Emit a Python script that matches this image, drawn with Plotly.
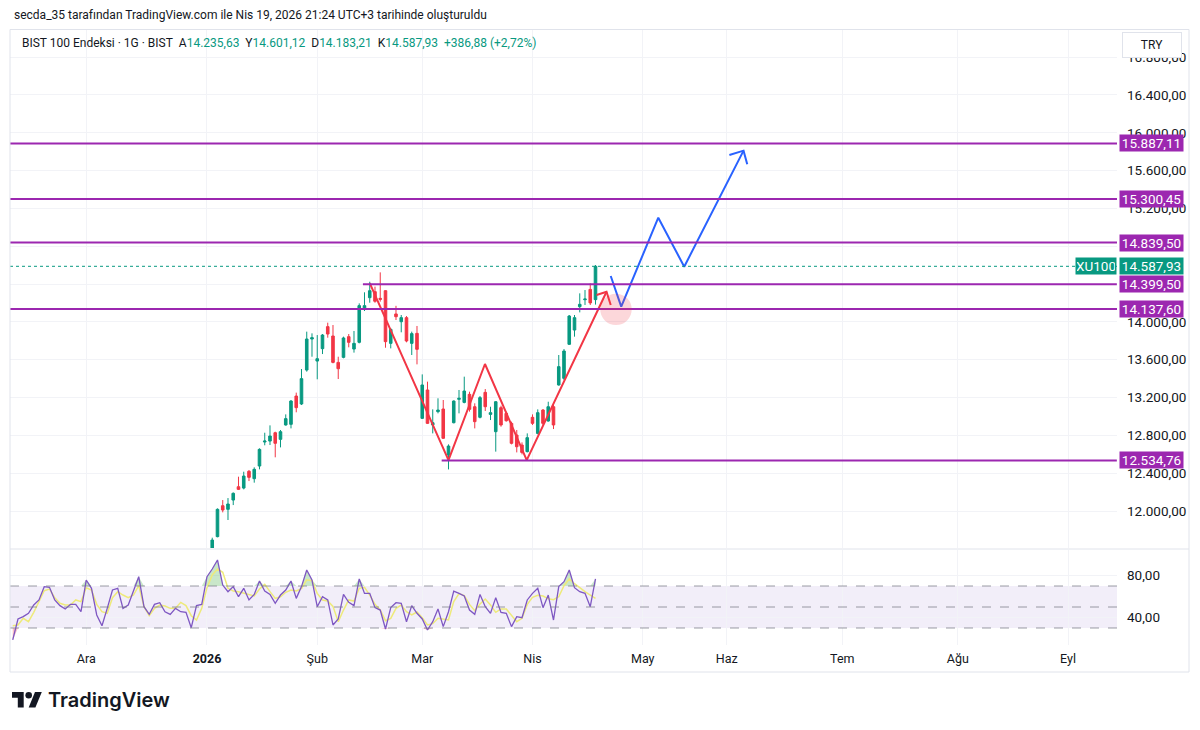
import plotly.graph_objects as go

# ---------------- data ----------------
# bar index: 0 = 2 Jan 2026 (trading days)
candle_idx = list(range(1, 75))
opens = [11595, 11729, 12056, 12018, 12116, 12257, 12243, 12420, 12342, 12476,
         12730, 12740, 12828, 12758, 12910, 12917, 13216, 13132, 13491, 13819,
         13586, 13717, 13950, 13851, 13572, 13625, 13844, 13713, 13784, 14133,
         14256, 14320, 14249, 14330, 13773, 14084, 14002, 14045, 13773, 13879,
         12980, 13280, 12910, 13051, 13079, 12592, 12934, 13181, 13149, 13234,
         13103, 12991, 13255, 13022, 12839, 13093, 13033, 12927, 12804, 12698,
         12628, 12991, 12821, 13068, 12952, 13103, 13333, 13403, 13763, 13914,
         14161, 14235, 14344, 14235.63]
highs = [11718, 12028, 12116, 12137, 12197, 12363, 12416, 12434, 12462, 12663,
         12828, 12906, 12839, 12857, 13022, 13174, 13252, 13502, 13897, 13879,
         13861, 13872, 13992, 13967, 13632, 13844, 13872, 13904, 14196, 14313,
         14425, 14373, 14524, 14335, 13932, 14170, 14073, 14062, 13897, 13957,
         13445, 13368, 13075, 13192, 13174, 12705, 13170, 13280, 13421, 13262,
         13139, 13216, 13290, 13103, 13163, 13114, 13051, 12945, 12857, 12726,
         12821, 13022, 13075, 13079, 13156, 13121, 13650, 13713, 14073, 14073,
         14302, 14337, 14408, 14601.12]
lows = [11588, 11722, 11986, 11905, 12063, 12222, 12229, 12317, 12300, 12441,
        12695, 12698, 12568, 12673, 12903, 12874, 13044, 13121, 13474, 13632,
        13393, 13660, 13833, 13562, 13396, 13615, 13731, 13675, 13773, 14115,
        14203, 14203, 14214, 13727, 13720, 14020, 13890, 13784, 13650, 13551,
        12973, 12920, 12821, 13033, 12762, 12440, 12927, 13033, 13139, 13051,
        12874, 12980, 13058, 12962, 12628, 12892, 12945, 12705, 12620, 12599,
        12620, 12910, 12811, 12910, 12945, 12867, 13326, 13386, 13756, 13844,
        14101, 14179, 14179, 14183.21]
closes = [11693, 12018, 12011, 12074, 12187, 12229, 12370, 12356, 12441, 12652,
          12740, 12793, 12716, 12839, 12977, 13163, 13093, 13400, 13819, 13833,
          13611, 13861, 13872, 13572, 13505, 13830, 13784, 13773, 14172, 14172,
          14330, 14218, 14239, 13791, 13921, 14055, 14045, 13798, 13876, 13710,
          13333, 12927, 12934, 13068, 12769, 12687, 13163, 13192, 13269, 13075,
          12945, 13199, 13103, 13040, 13156, 12910, 12955, 12716, 12680, 12620,
          12776, 12927, 13040, 12927, 13103, 12910, 13527, 13692, 14062, 14045,
          14186, 14242, 14201.05, 14587.93]

rsi_idx = list(range(-37, 75))
rsi = [18.6, 38.6, 40.8, 44.0, 51.9, 56.7, 69.4, 68.7, 56.7, 51.3,
       48.1, 52.5, 52.5, 45.5, 75.7, 67.8, 42.4, 32.2, 48.7, 66.2,
       67.8, 48.7, 51.9, 64.6, 78.9, 50.3, 43.0, 52.5, 54.1, 45.5,
       43.0, 48.7, 45.5, 44.9, 30.3, 51.3, 52.5,
       78.9, 86.2, 94.8, 70.9, 64.6, 69.4, 59.8, 67.8, 56.7, 62.0,
       74.8, 65.2, 62.0, 53.5, 61.4, 66.2, 74.8, 58.2, 69.4, 85.2,
       75.7, 50.3, 59.8, 56.7, 32.9, 38.6, 62.0, 54.4, 51.3, 76.7,
       63.0, 63.0, 49.4, 47.1, 29.0, 49.4, 54.1, 53.5, 36.0, 51.3,
       44.0, 38.6, 28.1, 36.0, 48.1, 31.3, 45.5, 65.2, 63.0, 60.5,
       47.1, 43.0, 62.0, 50.3, 44.0, 58.9, 44.9, 44.0, 31.3, 40.8,
       39.8, 56.7, 63.0, 67.8, 49.4, 61.4, 37.6, 69.4, 74.1, 85.2,
       68.4, 64.6, 63.0, 50.3, 76.7]
rsi_ma = [32.2, 32.8, 39.2, 36.0, 44.9, 56.0, 65.5, 67.1, 58.9, 53.5,
          51.9, 51.9, 56.7, 55.1, 68.4, 66.2, 52.5, 45.5, 44.0, 58.9,
          64.6, 61.4, 58.9, 61.4, 70.3, 50.3, 41.7, 48.7, 51.9, 50.9,
          48.7, 48.7, 54.4, 51.3, 41.7, 37.6, 48.7,
          68.4, 80.5, 86.2, 83.0, 67.8, 65.2, 64.6, 63.0, 61.4, 60.5,
          67.1, 71.6, 64.6, 58.2, 59.8, 64.0, 66.2, 65.2, 67.4, 76.0,
          75.1, 63.0, 56.7, 55.7, 50.6, 36.0, 47.1, 56.7, 55.7, 67.8,
          68.7, 61.4, 52.5, 47.1, 37.0, 39.2, 48.7, 51.9, 45.5, 42.4,
          45.2, 39.8, 32.9, 34.1, 39.2, 38.6, 37.6, 55.1, 62.7, 60.8,
          52.5, 46.5, 52.8, 57.6, 51.9, 44.9, 48.1, 48.1, 41.7, 36.0,
          39.2, 52.5, 59.2, 61.1, 60.5, 57.9, 57.0, 59.8, 70.3, 76.7,
          72.2, 68.1, 64.6, 61.4, 58.2]

month_idx = [-23, 0, 21, 41, 62, 83, 99, 121, 143, 164]
month_labels = ["Ara", "<b>2026</b>", "Şub", "Mar", "Nis", "May", "Haz", "Tem", "Ağu", "Eyl"]

price_ticks = [12000, 12400, 12800, 13200, 13600, 14000, 14400, 14800,
               15200, 15600, 16000, 16400, 16800]
# tick labels fully covered by the level tags in the reference
hidden_ticks = [14400, 14800]
rsi_ticks = [40, 80]
rsi_levels = [70, 50, 30]

levels_full = [15887.11, 15300.45, 14839.50, 14137.60]
levels_partial = [14399.50, 12534.76]
levels_partial_start = [29.7, 44.7]

pattern_x = [31.0, 46.0, 52.95, 60.9, 76.1]
pattern_y = [14411, 12539, 13555, 12539, 14319]
pattern_head_x = [74.2, 76.1, 76.9]
pattern_head_y = [14284, 14319, 14179]

proj_x = [76.9, 78.9, 85.96, 90.9, 102.2]
proj_y = [14485, 14161, 15102, 14584, 15811]
proj_head_x = [99.5, 102.2, 102.9]
proj_head_y = [15765, 15811, 15667]

circle_center = (77.9, 14133)
circle_radius = (3.0, 166)

prev_close = 14201.05

# ---------------- style ----------------
GREEN = "#089981"
RED = "#F23645"
PURPLE = "#9C27B0"
BLUE = "#2962FF"
TXT = "#131722"
GRID = "#f2f3f7"
FONT = "Roboto"
AXFS = 13.5

L, R, T, B = 10, 83, 30, 85
PW, PH = 1200 - L - R, 730 - T - B


def xp(px):
    return (px - L) / PW


def yp(py):
    return (730 - B - py) / PH


def tr(v):
    s = f"{v:,.2f}"
    return s.replace(",", "X").replace(".", ",").replace("X", ".")


fig = go.Figure()

fig.add_trace(go.Candlestick(
    x=candle_idx, open=opens, high=highs, low=lows, close=closes,
    increasing=dict(line=dict(color=GREEN, width=1), fillcolor=GREEN),
    decreasing=dict(line=dict(color=RED, width=1), fillcolor=RED),
    whiskerwidth=0, xaxis="x", yaxis="y", hoverinfo="skip", showlegend=False))

# pattern lines
for xs, ys, col in [(pattern_x, pattern_y, RED), (pattern_head_x, pattern_head_y, RED),
                    (proj_x, proj_y, BLUE), (proj_head_x, proj_head_y, BLUE)]:
    fig.add_trace(go.Scatter(x=xs, y=ys, mode="lines", line=dict(color=col, width=2),
                             xaxis="x", yaxis="y", hoverinfo="skip", showlegend=False))

# RSI fills
n = len(rsi_idx)
fig.add_trace(go.Scatter(x=rsi_idx, y=[70] * n, mode="lines", line=dict(width=0),
                         xaxis="x2", yaxis="y2", hoverinfo="skip", showlegend=False))
fig.add_trace(go.Scatter(x=rsi_idx, y=[max(v, 70) for v in rsi], mode="lines",
                         line=dict(width=0), fill="tonexty",
                         fillcolor="rgba(76,175,80,0.30)",
                         xaxis="x2", yaxis="y2", hoverinfo="skip", showlegend=False))
fig.add_trace(go.Scatter(x=rsi_idx, y=[30] * n, mode="lines", line=dict(width=0),
                         xaxis="x2", yaxis="y2", hoverinfo="skip", showlegend=False))
fig.add_trace(go.Scatter(x=rsi_idx, y=[min(v, 30) for v in rsi], mode="lines",
                         line=dict(width=0), fill="tonexty",
                         fillcolor="rgba(242,54,69,0.30)",
                         xaxis="x2", yaxis="y2", hoverinfo="skip", showlegend=False))
fig.add_trace(go.Scatter(x=rsi_idx, y=rsi_ma, mode="lines",
                         line=dict(color="#EEEA7A", width=1.5),
                         xaxis="x2", yaxis="y2", hoverinfo="skip", showlegend=False))
fig.add_trace(go.Scatter(x=rsi_idx, y=rsi, mode="lines",
                         line=dict(color="#7E57C2", width=1.3),
                         xaxis="x2", yaxis="y2", hoverinfo="skip", showlegend=False))

shapes = []
shapes.append(dict(type="rect", xref="x2 domain", yref="y2", x0=0, x1=1,
                   y0=min(rsi_levels), y1=max(rsi_levels),
                   fillcolor="rgba(126,87,194,0.10)", line=dict(width=0), layer="below"))
for lv in rsi_levels:
    shapes.append(dict(type="line", xref="x2 domain", yref="y2", x0=0, x1=1, y0=lv, y1=lv,
                       line=dict(color="rgba(120,123,134,0.75)", width=1, dash="dash")))
shapes.append(dict(type="line", xref="x domain", yref="y", x0=0, x1=1,
                   y0=closes[-1], y1=closes[-1],
                   line=dict(color=GREEN, width=1, dash="dot")))
for lv in levels_full:
    shapes.append(dict(type="line", xref="x domain", yref="y", x0=0, x1=1, y0=lv, y1=lv,
                       line=dict(color=PURPLE, width=2)))
for lv, xs in zip(levels_partial, levels_partial_start):
    shapes.append(dict(type="line", xref="x", yref="y", x0=xs, x1=173.3, y0=lv, y1=lv,
                       line=dict(color=PURPLE, width=2)))
cx, cy = circle_center
rx, ry = circle_radius
shapes.append(dict(type="circle", xref="x", yref="y", x0=cx - rx, x1=cx + rx,
                   y0=cy - ry, y1=cy + ry, fillcolor="rgba(242,54,69,0.20)",
                   line=dict(width=0)))
shapes.append(dict(type="line", xref="paper", yref="paper", x0=0, x1=xp(1189),
                   y0=yp(549), y1=yp(549), line=dict(color="#e0e3eb", width=1)))
shapes.append(dict(type="rect", xref="paper", yref="paper", x0=xp(10), x1=xp(1189),
                   y0=yp(672), y1=yp(29.5), line=dict(color="#e0e3eb", width=1)))
# TradingView logo
shapes.append(dict(type="path", xref="paper", yref="paper",
                   path="M {} {} L {} {} L {} {} L {} {} L {} {} L {} {} Z".format(
                       xp(12), yp(692), xp(23.7), yp(692), xp(23.7), yp(707.5),
                       xp(17.8), yp(707.5), xp(17.8), yp(697.8), xp(12), yp(697.8)),
                   fillcolor=TXT, line=dict(width=0)))
shapes.append(dict(type="circle", xref="paper", yref="paper",
                   x0=xp(25.4), x1=xp(32.0), y0=yp(698.6), y1=yp(692.0),
                   fillcolor=TXT, line=dict(width=0)))
shapes.append(dict(type="path", xref="paper", yref="paper",
                   path="M {} {} L {} {} L {} {} L {} {} Z".format(
                       xp(28.7), yp(707.5), xp(35.0), yp(692), xp(41.8), yp(692),
                       xp(35.4), yp(707.5)),
                   fillcolor=TXT, line=dict(width=0)))

ann = []
ann.append(dict(xref="paper", yref="paper", x=xp(12), y=yp(15), xanchor="left",
                yanchor="middle", showarrow=False,
                text="secda_35 tarafından TradingView.com ile Nis 19, 2026 21:24 UTC+3 tarihinde oluşturuldu",
                font=dict(family=FONT, size=12, color=TXT)))
g = lambda s: f"<span style='color:{GREEN}'>{s}</span>"
chg = closes[-1] - prev_close
pct = chg / prev_close * 100
sp = "\u00a0\u00a0"
legend_txt = ("BIST 100 Endeksi · 1G · BIST" + sp + "A" + g(tr(opens[-1])) + sp + "Y" +
              g(tr(highs[-1])) + sp + "D" + g(tr(lows[-1])) + sp + "K" + g(tr(closes[-1])) +
              sp + g("+" + tr(chg) + " (+" + tr(pct) + "%)"))
ann.append(dict(xref="paper", yref="paper", x=xp(20), y=yp(43), xanchor="left",
                yanchor="middle", showarrow=False, text=legend_txt,
                font=dict(family=FONT, size=12, color=TXT)))
ann.append(dict(xref="paper", yref="paper", x=xp(1152), y=yp(45), xanchor="center",
                yanchor="middle", showarrow=False, text="TRY", width=52, height=18,
                bgcolor="white", bordercolor="#e0e3eb", borderwidth=1, borderpad=3,
                font=dict(family=FONT, size=12, color=TXT)))
for lv in levels_full + levels_partial:
    ann.append(dict(xref="paper", yref="y", x=1, y=lv, xanchor="left", yanchor="middle",
                    xshift=2, showarrow=False, text=tr(lv), bgcolor=PURPLE,
                    width=61, height=14, borderpad=1,
                    font=dict(family=FONT, size=AXFS, color="white")))
ann.append(dict(xref="paper", yref="y", x=1, y=closes[-1], xanchor="left", yanchor="middle",
                xshift=2, showarrow=False, text=tr(closes[-1]), bgcolor=GREEN,
                width=61, height=14, borderpad=1,
                font=dict(family=FONT, size=AXFS, color="white")))
ann.append(dict(xref="paper", yref="y", x=1, y=closes[-1], xanchor="right", yanchor="middle",
                xshift=0, showarrow=False, text="XU100", bgcolor=GREEN,
                width=38, height=14, borderpad=1,
                font=dict(family=FONT, size=AXFS, color="white")))
ann.append(dict(xref="paper", yref="paper", x=xp(46), y=yp(700), xanchor="left",
                yanchor="middle", showarrow=False, text="TradingView",
                font=dict(family="Inter", size=20, color=TXT, weight=600)))

price_text = ["" if t in hidden_ticks else tr(t) for t in price_ticks]

xr = [-37.52, 173.33]
fig.update_layout(
    width=1200, height=730, margin=dict(l=L, r=R, t=T, b=B),
    paper_bgcolor="white", plot_bgcolor="white",
    separators=",.", hovermode=False, showlegend=False,
    font=dict(family=FONT, size=12, color=TXT),
    xaxis=dict(domain=[0, 1], range=xr, anchor="y", tickvals=month_idx,
               showticklabels=False, showgrid=True, gridcolor=GRID, zeroline=False,
               rangeslider=dict(visible=False), ticks=""),
    xaxis2=dict(domain=[0, 1], range=xr, anchor="y2", matches="x", tickvals=month_idx,
                ticktext=month_labels, showgrid=True, gridcolor=GRID, zeroline=False,
                ticks="", tickfont=dict(family=FONT, size=12.5, color=TXT),
                ticklabelstandoff=4),
    yaxis=dict(domain=[yp(548), 1], range=[11609, 17087], side="right", anchor="x",
               tickvals=price_ticks, ticktext=price_text, showgrid=True, gridcolor=GRID,
               zeroline=False, ticks="", ticklabelstandoff=9,
               tickfont=dict(family=FONT, size=AXFS, color=TXT)),
    yaxis2=dict(domain=[0, yp(550)], range=[13.8, 104.3], side="right", anchor="x2",
                tickvals=rsi_ticks, tickformat=",.2f", showgrid=True, gridcolor=GRID,
                zeroline=False, ticks="", ticklabelstandoff=9,
                tickfont=dict(family=FONT, size=AXFS, color=TXT)),
    shapes=shapes, annotations=ann,
)

fig.write_html("out.html")
